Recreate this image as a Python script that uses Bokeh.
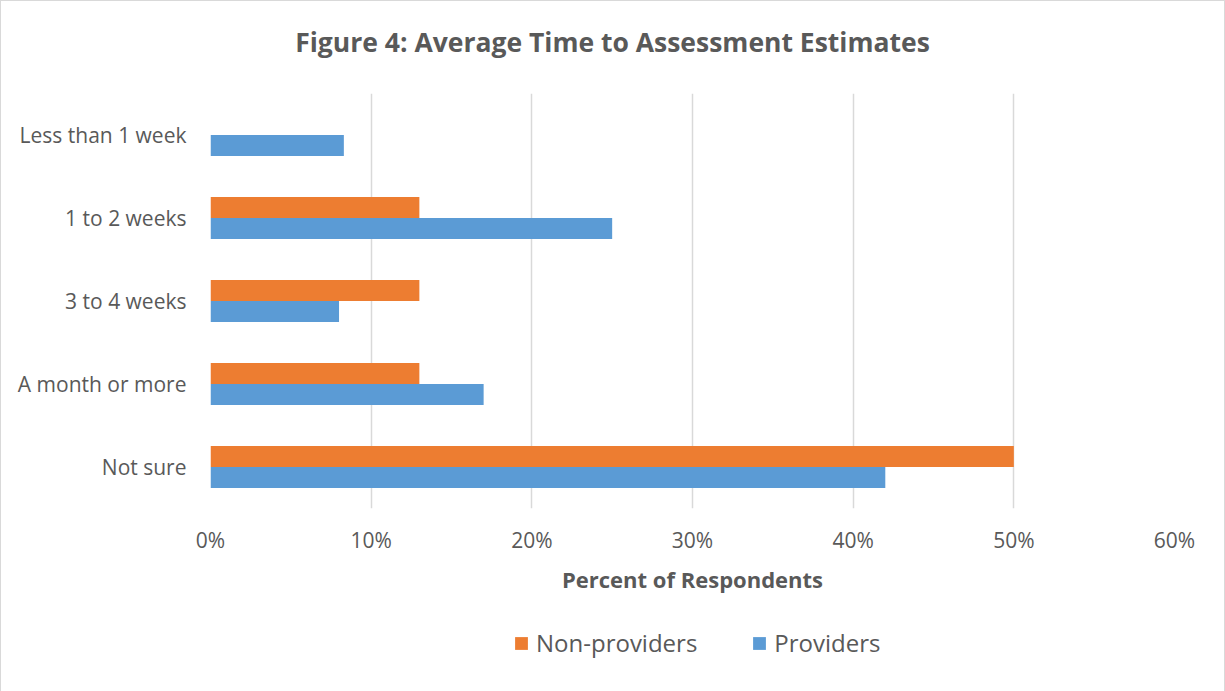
from bokeh.plotting import figure
from bokeh.layouts import column
from bokeh.models import (FactorRange, Range1d, Legend, LegendItem, NumeralTickFormatter,
                          FixedTicker, ColumnDataSource, Label)
from bokeh.transform import dodge
from bokeh.embed import file_html
from bokeh.resources import INLINE

categories = ["Less than 1 week", "1 to 2 weeks", "3 to 4 weeks", "A month or more", "Not sure"]
non_providers = [0.0, 0.13, 0.13, 0.13, 0.50]
providers = [0.083, 0.25, 0.08, 0.17, 0.42]
x_ticks = [0.0, 0.1, 0.2, 0.3, 0.4, 0.5, 0.6]
series_names = ["Non-providers", "Providers"]
series_colors = ["#ED7D31", "#5B9BD5"]
title_text = "Figure 4: Average Time to Assessment Estimates"
x_label = "Percent of Respondents"

FONT = "Open Sans"
TXT = "#595959"
W = 1223

# ---- title strip ----
tf = figure(width=W, height=92, x_range=Range1d(0, 1), y_range=Range1d(0, 1),
            output_backend="svg", toolbar_location=None,
            x_axis_location=None, y_axis_location=None,
            min_border=0, outline_line_color=None)
tf.grid.grid_line_color = None
tf.add_layout(Label(x=402, y=52, x_units="screen", y_units="screen", text=title_text,
                    text_align="center", text_baseline="middle",
                    text_font=FONT, text_font_size="26.5px", text_font_style="bold",
                    text_color=TXT))

# ---- main chart ----
src = ColumnDataSource(dict(cat=categories, np=non_providers, pr=providers))

p = figure(width=W, height=507,
           y_range=FactorRange(*reversed(categories)),
           x_range=Range1d(0, 0.6),
           output_backend="svg", toolbar_location=None,
           min_border_left=209, min_border_right=50,
           min_border_top=0, min_border_bottom=92)

r1 = p.hbar(y=dodge("cat", 0.127, range=p.y_range), right="np", left=0, height=0.253,
            source=src, fill_color=series_colors[0], line_color=None)
r2 = p.hbar(y=dodge("cat", -0.127, range=p.y_range), right="pr", left=0, height=0.253,
            source=src, fill_color=series_colors[1], line_color=None)

p.outline_line_color = None
p.ygrid.grid_line_color = None
p.xgrid.grid_line_color = "#D9D9D9"
p.xgrid.grid_line_width = 1.5

p.xaxis.ticker = FixedTicker(ticks=x_ticks)
p.xaxis.formatter = NumeralTickFormatter(format="0%")
for ax in (p.xaxis, p.yaxis):
    ax.axis_line_color = None
    ax.major_tick_line_color = None
    ax.minor_tick_line_color = None
    ax.major_label_text_font = FONT
    ax.major_label_text_font_size = "21px"
    ax.major_label_text_color = TXT
p.xaxis.major_label_standoff = 11
p.yaxis.major_label_standoff = 18
p.xaxis.axis_label = x_label
p.xaxis.axis_label_text_font = FONT
p.xaxis.axis_label_text_font_size = "22px"
p.xaxis.axis_label_text_font_style = "bold"
p.xaxis.axis_label_text_color = TXT
p.xaxis.axis_label_standoff = 7

# ---- legend strip ----
lf = figure(width=W, height=91, x_range=Range1d(0, 1), y_range=Range1d(0, 1),
            output_backend="svg", toolbar_location=None,
            x_axis_location=None, y_axis_location=None,
            min_border=0, outline_line_color=None)
lf.grid.grid_line_color = None
dummy = ColumnDataSource(dict(y=[float("nan")], right=[float("nan")]))
d1 = lf.hbar(y="y", right="right", height=0.1, source=dummy,
             fill_color=series_colors[0], line_color=None)
d2 = lf.hbar(y="y", right="right", height=0.1, source=dummy,
             fill_color=series_colors[1], line_color=None)
legend = Legend(items=[LegendItem(label=series_names[0], renderers=[d1]),
                       LegendItem(label=series_names[1], renderers=[d2])],
                orientation="horizontal", location=(303, 32),
                border_line_color=None, background_fill_alpha=0,
                padding=0, margin=0,
                label_text_font=FONT, label_text_font_size="24px", label_text_color=TXT,
                glyph_width=16, glyph_height=16, spacing=54, label_standoff=7)
lf.add_layout(legend, "center")

layout = column(tf, p, lf, spacing=0,
                styles={"border-left": "1px solid #D9D9D9", "border-top": "1px solid #D9D9D9",
                        "border-right": "1px solid #D9D9D9"})

open("out.html", "w").write(file_html(layout, INLINE))
